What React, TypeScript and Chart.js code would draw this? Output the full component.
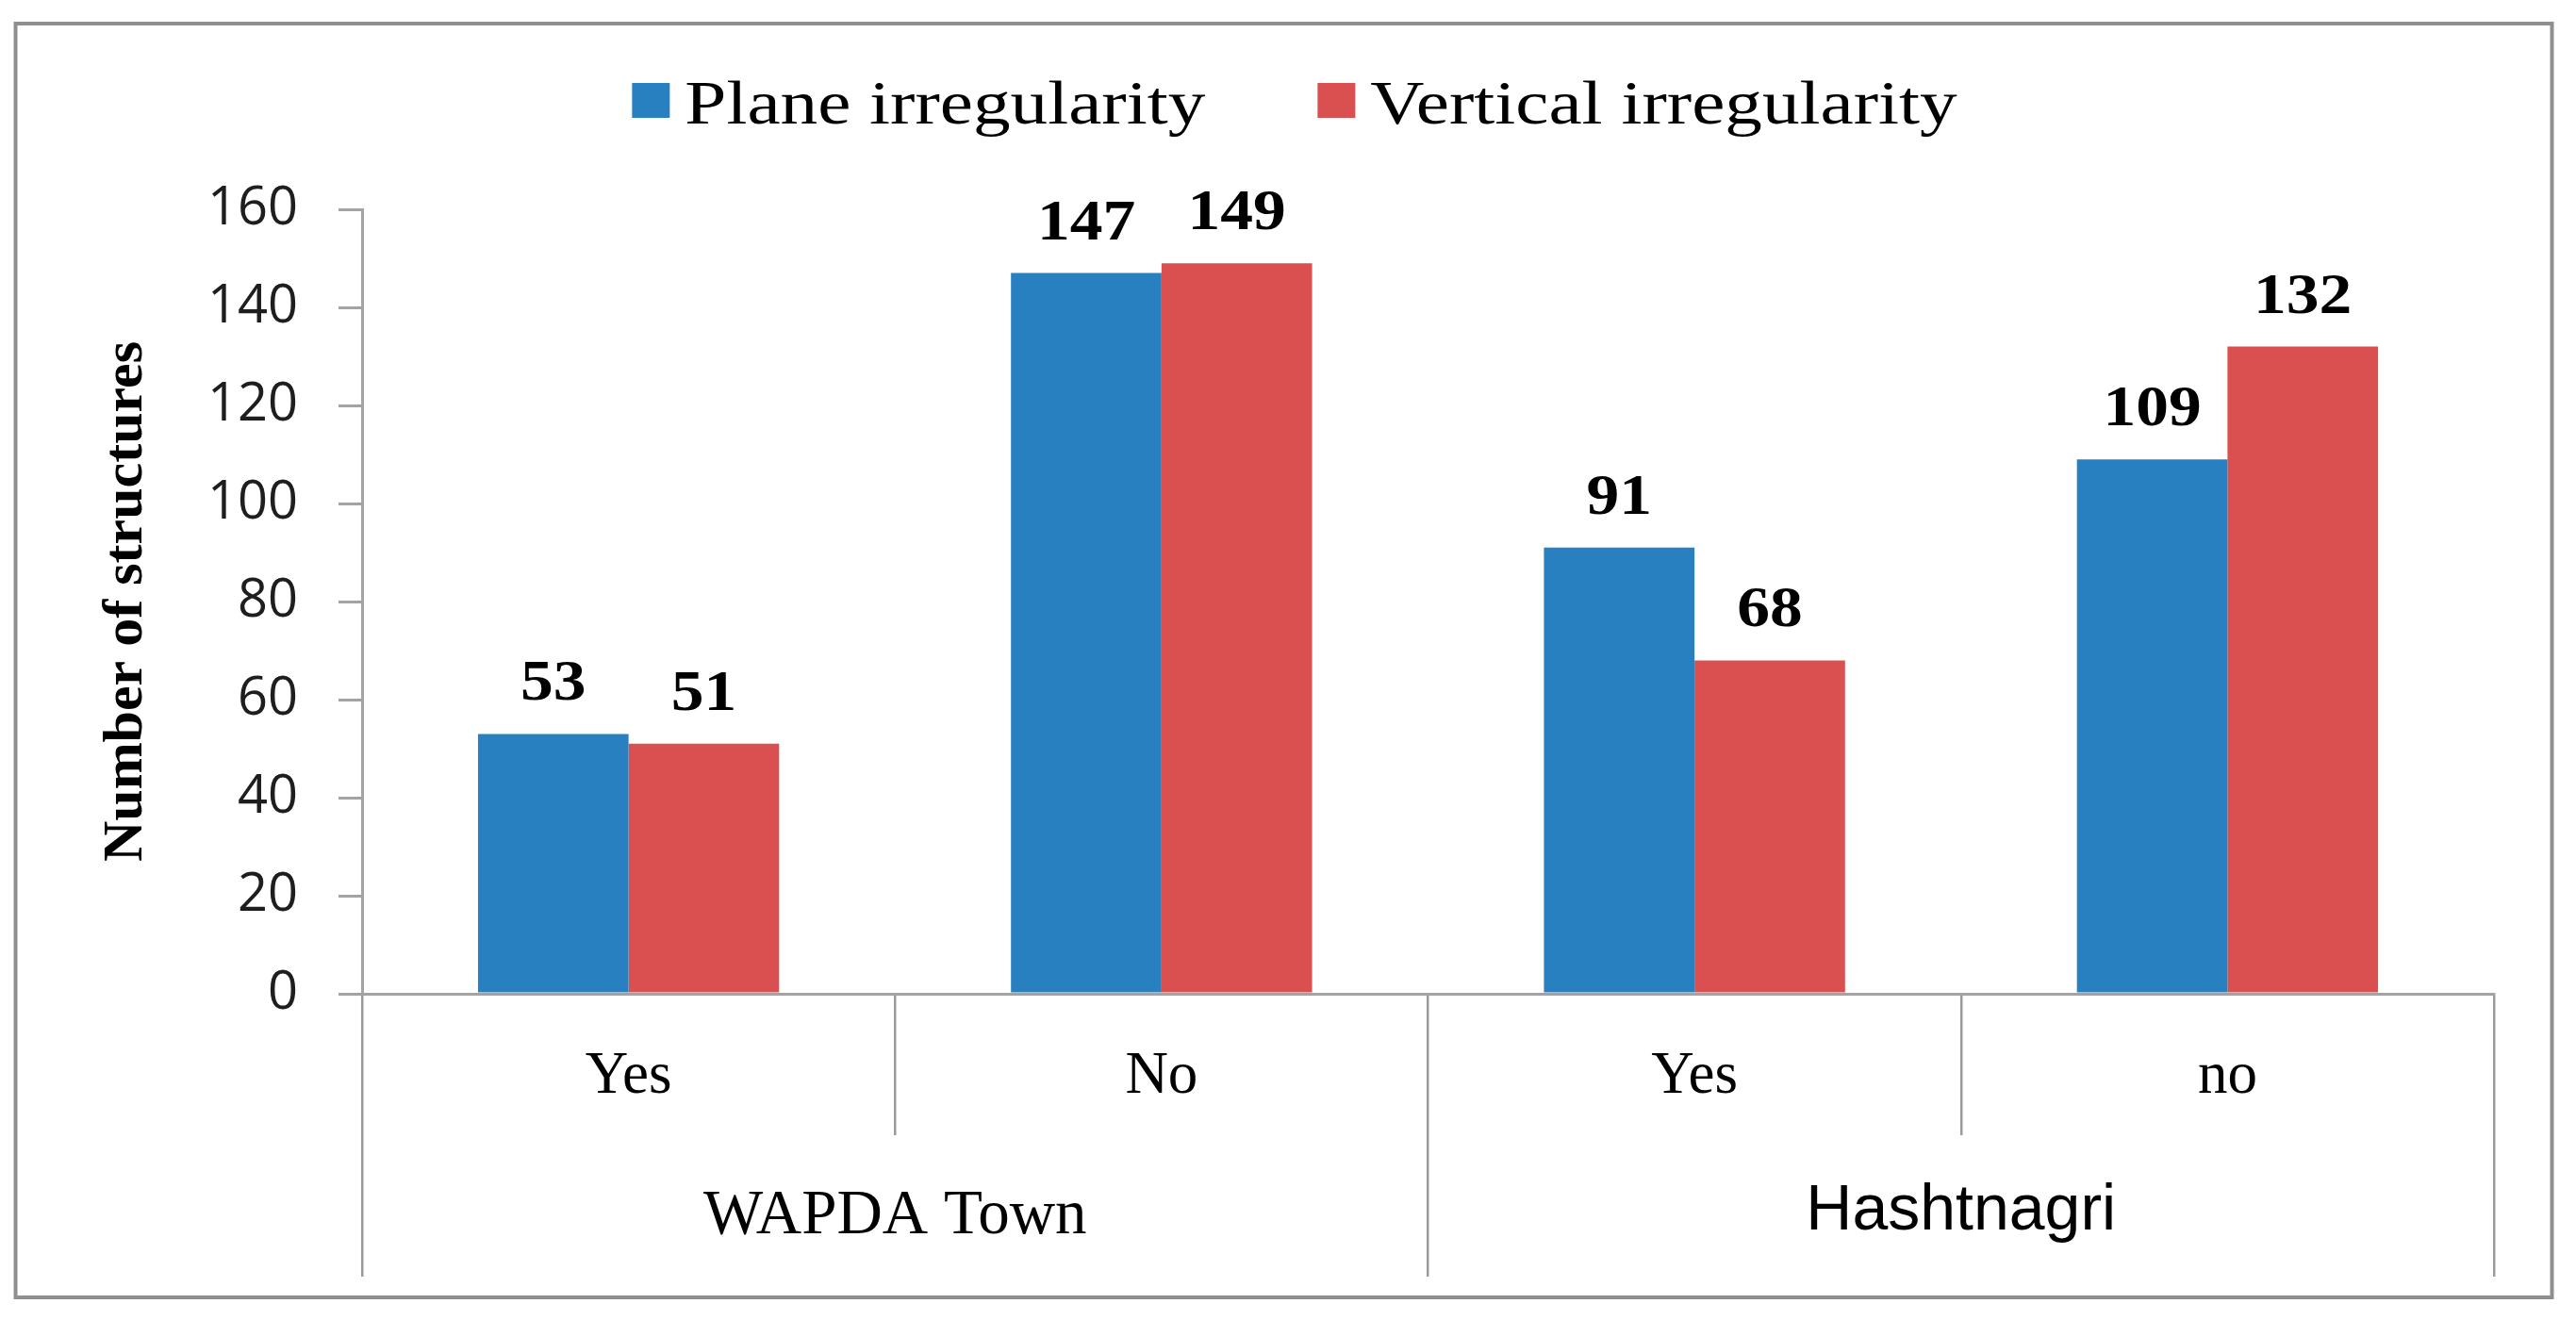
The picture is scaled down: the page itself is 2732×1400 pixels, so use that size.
import React, { useEffect, useRef } from 'react';
import { Chart, registerables } from 'chart.js';

Chart.register(...registerables);

// ---- data ----
const categories = ['Yes', 'No', 'Yes', 'no'];
const groups = ['WAPDA Town', 'Hashtnagri'];
const seriesNames = ['Plane irregularity', 'Vertical irregularity'];
const planeValues = [53, 147, 91, 109];
const verticalValues = [51, 149, 68, 132];
const seriesColors = ['#2980C1', '#DA5050'];
const yMin = 0;
const yMax = 160;
const yStep = 20;
const yTitle = 'Number of structures';

const SERIF = '"Liberation Serif", "Times New Roman", serif';
const SANS = '"Liberation Sans", Arial, sans-serif';
const TICK_SANS = '"Open Sans", "DejaVu Sans", sans-serif';
const AXIS_GRAY = '#a3a3a3';

const framePlugin = {
  id: 'frame',
  beforeDraw(chart: any) {
    const { ctx, width, height } = chart;
    ctx.save();
    ctx.fillStyle = '#ffffff';
    ctx.fillRect(0, 0, width, height);
    ctx.strokeStyle = '#8f8f8f';
    ctx.lineWidth = 4;
    ctx.strokeRect(16.5, 25, width - 25.5 - 16.5, height - 24 - 25);
    ctx.restore();
  },
};

const legendPlugin = {
  id: 'sketchLegend',
  afterDraw(chart: any) {
    const { ctx } = chart;
    const sx = 1.2;
    const boxW = 40;
    const boxH = 37;
    const gapBox = 16;
    const gapItem = 119;
    const baseline = 131;
    const boxTop = 88;
    ctx.save();
    ctx.font = `66px ${SERIF}`;
    const items = chart.data.datasets.map((ds: any) => ({
      text: ds.label as string,
      color: ds.backgroundColor as string,
      w: ctx.measureText(ds.label).width * sx,
    }));
    const total =
      items.reduce((s: number, it: any) => s + boxW + gapBox + it.w, 0) + gapItem * (items.length - 1);
    let x = chart.width / 2 + 7 - total / 2;
    items.forEach((it: any) => {
      ctx.fillStyle = it.color;
      ctx.fillRect(x, boxTop, boxW, boxH);
      x += boxW + gapBox;
      ctx.save();
      ctx.translate(x, baseline);
      ctx.scale(sx, 1);
      ctx.fillStyle = '#000000';
      ctx.textAlign = 'left';
      ctx.textBaseline = 'alphabetic';
      ctx.fillText(it.text, 0, 0);
      ctx.restore();
      x += it.w + gapItem;
    });
    ctx.restore();
  },
};

const valueLabelPlugin = {
  id: 'valueLabels',
  afterDatasetsDraw(chart: any) {
    const { ctx } = chart;
    chart.data.datasets.forEach((ds: any, di: number) => {
      const meta = chart.getDatasetMeta(di);
      meta.data.forEach((bar: any, i: number) => {
        const v = ds.data[i];
        ctx.save();
        ctx.translate(bar.x, bar.y - 36);
        ctx.scale(1.14, 1);
        ctx.font = `bold 61px ${SERIF}`;
        ctx.textAlign = 'center';
        ctx.textBaseline = 'alphabetic';
        ctx.fillStyle = '#000000';
        ctx.fillText(String(v), 0, 0);
        ctx.restore();
      });
    });
  },
};

export default function App() {
  const canvasRef = useRef<HTMLCanvasElement | null>(null);

  useEffect(() => {
    document.body.style.margin = '0';
    document.body.style.overflow = 'hidden';
    document.body.style.background = '#ffffff';
    const canvas = canvasRef.current;
    if (!canvas) return;

    const chart = new Chart(canvas, {
      type: 'bar',
      data: {
        labels: categories,
        datasets: [
          {
            label: seriesNames[0],
            data: planeValues,
            backgroundColor: seriesColors[0],
            borderWidth: 0,
            categoryPercentage: 0.565,
            barPercentage: 1.0,
          },
          {
            label: seriesNames[1],
            data: verticalValues,
            backgroundColor: seriesColors[1],
            borderWidth: 0,
            categoryPercentage: 0.565,
            barPercentage: 1.0,
          },
        ],
      },
      options: {
        animation: false,
        responsive: true,
        maintainAspectRatio: false,
        layout: { padding: { left: 0, right: 87, top: 222, bottom: 46 } },
        plugins: {
          legend: { display: false },
          tooltip: { enabled: false },
          title: { display: false },
        },
        scales: {
          x: {
            type: 'category',
            position: 'bottom',
            weight: 1,
            offset: true,
            grid: {
              display: true,
              offset: true,
              drawOnChartArea: false,
              drawTicks: true,
              tickLength: 150,
              color: '#9a9a9a',
              lineWidth: 2.5,
            },
            border: { display: true, color: AXIS_GRAY, width: 3 },
            ticks: {
              padding: -99,
              autoSkip: false,
              maxRotation: 0,
              color: '#000000',
              font: { family: SERIF, size: 63, lineHeight: 1.2 },
            },
            afterFit: (s: any) => {
              s.height = 150;
            },
          },
          x2: {
            type: 'category',
            labels: groups,
            position: 'bottom',
            weight: 2,
            offset: true,
            grid: {
              display: true,
              offset: true,
              drawOnChartArea: false,
              drawTicks: true,
              tickLength: 150,
              color: '#9a9a9a',
              lineWidth: 2.5,
            },
            border: { display: false },
            ticks: {
              padding: -101,
              autoSkip: false,
              maxRotation: 0,
              color: '#000000',
              font: (c: any) =>
                c.index === 1
                  ? { family: SANS, size: 68, lineHeight: 0.94 }
                  : { family: SERIF, size: 67, lineHeight: 1.11 },
            },
            afterFit: (s: any) => {
              s.height = 150;
            },
          },
          y: {
            min: yMin,
            max: yMax,
            ticks: {
              stepSize: yStep,
              padding: 43,
              color: '#1e1e1e',
              font: { family: TICK_SANS, size: 56 },
            },
            grid: {
              drawOnChartArea: false,
              drawTicks: true,
              tickLength: 25,
              color: AXIS_GRAY,
              lineWidth: 3,
            },
            border: { display: true, color: AXIS_GRAY, width: 3 },
            title: {
              display: true,
              text: yTitle,
              color: '#000000',
              font: { family: SERIF, size: 60, weight: 'bold', lineHeight: 1.2 },
              padding: { top: 98, bottom: 0 },
            },
            afterFit: (s: any) => {
              s.width = 384;
            },
          },
        },
      } as any,
      plugins: [framePlugin, legendPlugin, valueLabelPlugin],
    });

    return () => {
      chart.destroy();
    };
  }, []);

  return (
    <div style={{ position: 'relative', width: '2732px', height: '1400px', background: '#ffffff' }}>
      <canvas ref={canvasRef} />
    </div>
  );
}
